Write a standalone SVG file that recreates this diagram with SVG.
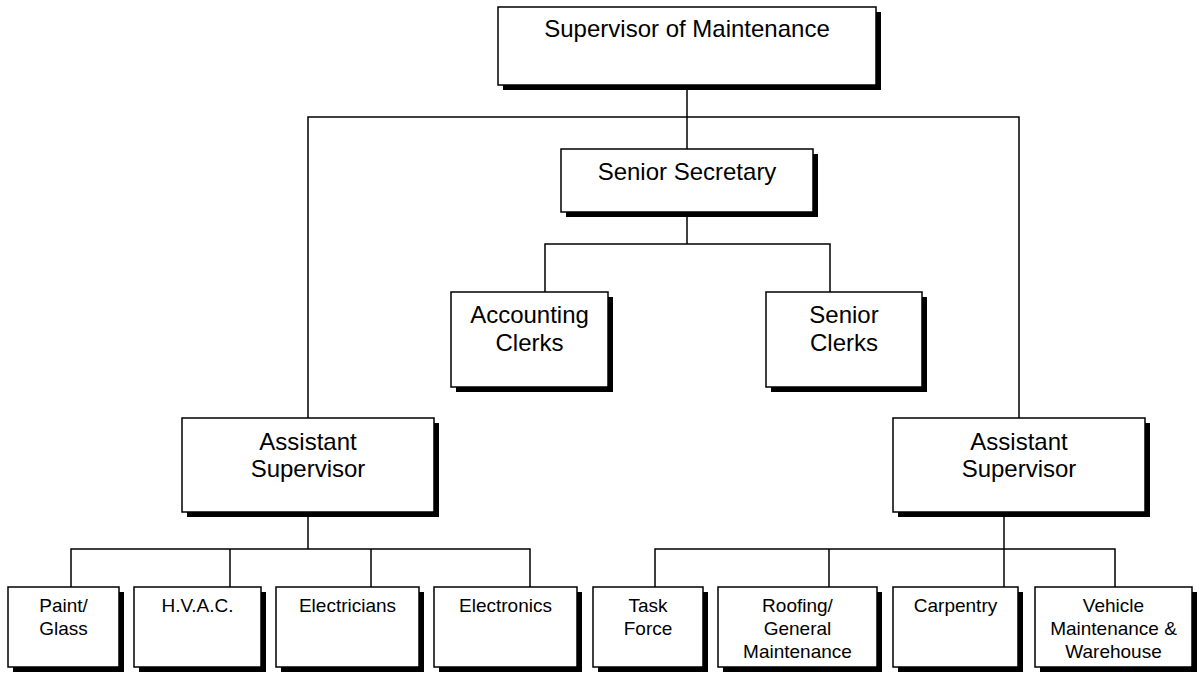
<svg xmlns="http://www.w3.org/2000/svg" width="1202" height="674" viewBox="0 0 1202 674">
  <style>
    .shadow { fill: #000; }
    .box { fill: #fff; stroke: #000; stroke-width: 1.5; }
    .lbl { font-family: "Liberation Sans", Arial, sans-serif; fill: #000; text-anchor: middle; }
    .big { font-size: 24px; }
    .small { font-size: 19px; }
    .wire { fill: none; stroke: #000; stroke-width: 1.5; }
  </style>
  <rect width="1202" height="674" fill="#fff"/>

  <!-- connectors -->
  <g id="connectors" class="wire">
    <path d="M687 85 V149"/>
    <path d="M308 418 V117 H1019 V418"/>
    <path d="M687 212 V244"/>
    <path d="M545 292 V244 H830 V292"/>
    <path d="M308 512 V549"/>
    <path d="M71 587 V549 H530 V587"/>
    <path d="M230 549 V587"/>
    <path d="M371 549 V587"/>
    <path d="M1004 512 V587"/>
    <path d="M655 587 V549 H1115 V587"/>
    <path d="M829 549 V587"/>
  </g>

  <g id="supervisor">
    <rect class="shadow" x="503" y="12" width="378" height="78"/>
    <rect class="box" x="498" y="7" width="378" height="78"/>
    <text class="lbl big" x="687" y="37">Supervisor of Maintenance</text>
  </g>

  <g id="senior-secretary">
    <rect class="shadow" x="566" y="154" width="252" height="63"/>
    <rect class="box" x="561" y="149" width="252" height="63"/>
    <text class="lbl big" x="687" y="180">Senior Secretary</text>
  </g>

  <g id="accounting-clerks">
    <rect class="shadow" x="456" y="297" width="157" height="95"/>
    <rect class="box" x="451" y="292" width="157" height="95"/>
    <text class="lbl big" x="529.5" y="323">Accounting</text>
    <text class="lbl big" x="529.5" y="351">Clerks</text>
  </g>

  <g id="senior-clerks">
    <rect class="shadow" x="771" y="297" width="156" height="95"/>
    <rect class="box" x="766" y="292" width="156" height="95"/>
    <text class="lbl big" x="844" y="323">Senior</text>
    <text class="lbl big" x="844" y="351">Clerks</text>
  </g>

  <g id="assistant-left">
    <rect class="shadow" x="187" y="423" width="252" height="94"/>
    <rect class="box" x="182" y="418" width="252" height="94"/>
    <text class="lbl big" x="308" y="450">Assistant</text>
    <text class="lbl big" x="308" y="477">Supervisor</text>
  </g>

  <g id="assistant-right">
    <rect class="shadow" x="898" y="423" width="252" height="94"/>
    <rect class="box" x="893" y="418" width="252" height="94"/>
    <text class="lbl big" x="1019" y="450">Assistant</text>
    <text class="lbl big" x="1019" y="477">Supervisor</text>
  </g>

  <g id="paint-glass">
    <rect class="shadow" x="13" y="592" width="111" height="80"/>
    <rect class="box" x="8" y="587" width="111" height="80"/>
    <text class="lbl small" x="63.5" y="612">Paint/</text>
    <text class="lbl small" x="63.5" y="635">Glass</text>
  </g>

  <g id="hvac">
    <rect class="shadow" x="139" y="592" width="127" height="80"/>
    <rect class="box" x="134" y="587" width="127" height="80"/>
    <text class="lbl small" x="197.5" y="612">H.V.A.C.</text>
  </g>

  <g id="electricians">
    <rect class="shadow" x="281" y="592" width="143" height="80"/>
    <rect class="box" x="276" y="587" width="143" height="80"/>
    <text class="lbl small" x="347.5" y="612">Electricians</text>
  </g>

  <g id="electronics">
    <rect class="shadow" x="439" y="592" width="143" height="80"/>
    <rect class="box" x="434" y="587" width="143" height="80"/>
    <text class="lbl small" x="505.5" y="612">Electronics</text>
  </g>

  <g id="task-force">
    <rect class="shadow" x="598" y="592" width="110" height="80"/>
    <rect class="box" x="593" y="587" width="110" height="80"/>
    <text class="lbl small" x="648" y="612">Task</text>
    <text class="lbl small" x="648" y="635">Force</text>
  </g>

  <g id="roofing">
    <rect class="shadow" x="723" y="592" width="159" height="80"/>
    <rect class="box" x="718" y="587" width="159" height="80"/>
    <text class="lbl small" x="797.5" y="612">Roofing/</text>
    <text class="lbl small" x="797.5" y="635">General</text>
    <text class="lbl small" x="797.5" y="658">Maintenance</text>
  </g>

  <g id="carpentry">
    <rect class="shadow" x="898" y="592" width="125" height="80"/>
    <rect class="box" x="893" y="587" width="125" height="80"/>
    <text class="lbl small" x="955.5" y="612">Carpentry</text>
  </g>

  <g id="vehicle">
    <rect class="shadow" x="1040" y="592" width="157" height="80"/>
    <rect class="box" x="1035" y="587" width="157" height="80"/>
    <text class="lbl small" x="1113.5" y="612">Vehicle</text>
    <text class="lbl small" x="1113.5" y="635">Maintenance &amp;</text>
    <text class="lbl small" x="1113.5" y="658">Warehouse</text>
  </g>
</svg>
